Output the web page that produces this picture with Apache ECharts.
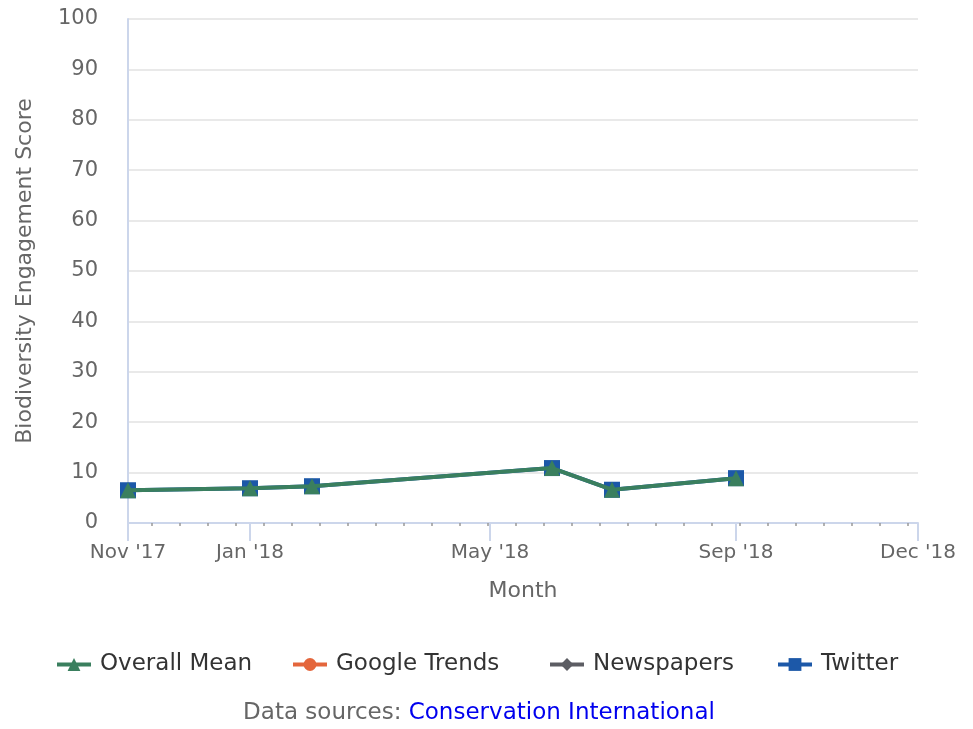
<!DOCTYPE html>
<html>
<head>
<meta charset="utf-8">
<script src="https://cdn.jsdelivr.net/npm/echarts@6/dist/echarts.min.js"></script>
<style>
html,body{margin:0;padding:0;background:#fff;}
#chart{width:973px;height:729px;}
</style>
</head>
<body>
<div id="chart"></div>
<script>
// ---- data ----
var dates = ['2017-11-01', '2018-01-01', '2018-02-01', '2018-06-01', '2018-07-01', '2018-09-01'];
var overallMean = [6.5, 6.9, 7.3, 10.9, 6.6, 8.9];
var googleTrends = [];
var newspapers = [];
var twitter = [6.5, 6.9, 7.3, 10.9, 6.6, 8.9];
var seriesNames = ['Overall Mean', 'Google Trends', 'Newspapers', 'Twitter'];
var xTickDates = ['2017-11-01', '2018-01-01', '2018-05-01', '2018-09-01', '2018-12-01'];
var xMinDate = '2017-11-01';
var xMaxDate = '2018-12-01';
var yTicks = [0, 10, 20, 30, 40, 50, 60, 70, 80, 90, 100];

function ts(s) { var p = s.split('-'); return Date.UTC(+p[0], +p[1] - 1, +p[2]); }
var monthNames = ['Jan','Feb','Mar','Apr','May','Jun','Jul','Aug','Sep','Oct','Nov','Dec'];
function fmt(v) {
  var d = new Date(v);
  return monthNames[d.getUTCMonth()] + " '" + String(d.getUTCFullYear()).slice(2);
}
function pairs(vals) { return vals.map(function (v, i) { return [ts(dates[i]), v]; }); }

// minor ticks: every two weeks (Mondays) starting 2017-11-13
var minorTicks = [];
for (var t = ts('2017-11-13'); t < ts(xMaxDate); t += 14 * 86400000) minorTicks.push(t);

var FONT = 'DejaVu Sans';
var colors = { 'Overall Mean': '#3a7f5e', 'Google Trends': '#e4663c', 'Newspapers': '#5c5d63', 'Twitter': '#1c58a8' };
var symbols = { 'Overall Mean': 'triangle', 'Google Trends': 'circle', 'Newspapers': 'diamond', 'Twitter': 'rect' };
var values = { 'Overall Mean': overallMean, 'Google Trends': googleTrends, 'Newspapers': newspapers, 'Twitter': twitter };
var legendLeft = [55, 291, 548, 776];

var series = seriesNames.map(function (n) {
  return {
    name: n, type: 'line', xAxisIndex: 0, data: pairs(values[n]),
    symbol: symbols[n], symbolSize: n === 'Twitter' ? 16 : (n === 'Overall Mean' ? 16 : 14),
    showAllSymbol: true,
    z: n === 'Overall Mean' ? 5 : 2,
    itemStyle: { color: colors[n] },
    lineStyle: { color: colors[n], width: 4 },
    emphasis: { disabled: true },
    animation: false
  };
});

var legends = seriesNames.map(function (n, i) {
  return {
    data: [n], left: legendLeft[i], top: 653, padding: 0, itemWidth: 34, itemHeight: 16,
    lineStyle: { width: 4 },
    textStyle: { fontSize: 23, color: '#333', fontFamily: FONT, padding: [0, 0, 0, 4] },
    selectedMode: false
  };
});

var chart = echarts.init(document.getElementById('chart'));
chart.setOption({
  animation: false,
  textStyle: { fontFamily: FONT },
  grid: { left: 128, right: 55, top: 19, bottom: 206 },
  xAxis: [{
    type: 'value', min: ts(xMinDate), max: ts(xMaxDate),
    name: 'Month', nameLocation: 'middle', nameGap: 57,
    nameTextStyle: { fontSize: 22, color: '#666', fontFamily: FONT },
    axisLine: { show: true, lineStyle: { color: '#ccd6eb', width: 2 } },
    axisTick: { show: true, length: 18, lineStyle: { color: '#ccd6eb', width: 2 }, customValues: xTickDates.map(ts) },
    axisLabel: { fontSize: 20, color: '#666', fontFamily: FONT, margin: 20, customValues: xTickDates.map(ts), formatter: fmt, showMinLabel: true, showMaxLabel: true, hideOverlap: false },
    splitLine: { show: false }
  }, {
    type: 'value', min: ts(xMinDate), max: ts(xMaxDate), position: 'bottom',
    axisLine: { show: false },
    axisTick: { show: true, length: 3, lineStyle: { color: '#999', width: 1.5 }, customValues: minorTicks },
    axisLabel: { show: false },
    splitLine: { show: false }
  }],
  yAxis: {
    type: 'value', min: yTicks[0], max: yTicks[yTicks.length - 1], interval: 10,
    name: 'Biodiversity Engagement Score', nameLocation: 'middle', nameGap: 92,
    nameTextStyle: { fontSize: 22, color: '#666', fontFamily: FONT },
    axisLine: { show: true, lineStyle: { color: '#ccd6eb', width: 2 } },
    axisTick: { show: false },
    axisLabel: { fontSize: 21, color: '#666', fontFamily: FONT, margin: 30 },
    splitLine: { show: true, lineStyle: { color: '#e9e9e9', width: 2 } }
  },
  legend: legends,
  graphic: [{
    type: 'text', x: 479, y: 713,
    style: {
      text: '{a|Data sources: }{b|Conservation International}',
      align: 'center', verticalAlign: 'middle',
      rich: {
        a: { fontSize: 23, fill: '#666', fontFamily: FONT, fontWeight: 'normal' },
        b: { fontSize: 23, fill: '#0000ee', fontFamily: FONT, fontWeight: 'normal' }
      }
    }
  }],
  series: series
});
</script>
</body>
</html>
